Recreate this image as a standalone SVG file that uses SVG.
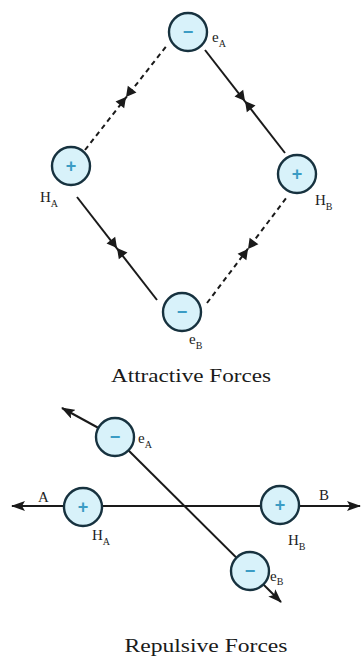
<svg xmlns="http://www.w3.org/2000/svg" xmlns:xlink="http://www.w3.org/1999/xlink" width="362" height="660" viewBox="0 0 362 660">
<style>
.ln{stroke:#1a1a1a;stroke-width:2;fill:none}
.dash{stroke-dasharray:5 4}
.pc{fill:#d8f2fa;stroke:#17323f;stroke-width:2.4}
.sg{font-family:"Liberation Sans",Arial,sans-serif;font-size:18px;font-weight:bold;fill:#3b9cc4;text-anchor:middle}
.lb{font-family:"Liberation Serif","Times New Roman",serif;font-size:15px;fill:#222}
.sb{font-size:10px}
.tt{font-family:"Liberation Serif","Times New Roman",serif;font-size:18px;fill:#1a1a1a}
</style>
<defs>
<marker id="ah" viewBox="0 0 14 10" refX="13" refY="5" markerWidth="14" markerHeight="10" markerUnits="userSpaceOnUse" orient="auto-start-reverse"><path d="M0,0 L14,5 L0,10 L3,5 z" fill="#1a1a1a"/></marker>
<path id="bt" d="M0,0 L-10,-5.5 L-10,5.5 Z M0,0 L10,-5.5 L10,5.5 Z" fill="#1a1a1a"/>
</defs>
<g id="connectors">
<line class="ln dash" x1="85" y1="150" x2="168" y2="44"/>
<line class="ln" x1="205" y1="50" x2="285" y2="153"/>
<line class="ln" x1="77" y1="197" x2="157" y2="300"/>
<line class="ln dash" x1="207" y1="303" x2="287" y2="197"/>
<use xlink:href="#bt" transform="translate(126,97) rotate(-52)"/>
<use xlink:href="#bt" transform="translate(245,101) rotate(52)"/>
<use xlink:href="#bt" transform="translate(117,248) rotate(52)"/>
<use xlink:href="#bt" transform="translate(248,249) rotate(-53)"/>
<line class="ln" x1="12" y1="506" x2="360" y2="506" marker-start="url(#ah)" marker-end="url(#ah)"/>
<line class="ln" x1="115" y1="437" x2="62" y2="408" marker-end="url(#ah)"/>
<line class="ln" x1="115" y1="437" x2="281" y2="602" marker-end="url(#ah)"/>
</g>
<g id="eA-top"><circle class="pc" cx="188" cy="32" r="19"/><text class="sg" x="188" y="38">−</text><text class="lb" x="212" y="42">e<tspan class="sb" dy="5">A</tspan></text></g>
<g id="HA-top"><circle class="pc" cx="71" cy="166" r="19"/><text class="sg" x="71" y="172">+</text><text class="lb" x="40" y="202">H<tspan class="sb" dy="5">A</tspan></text></g>
<g id="HB-top"><circle class="pc" cx="297" cy="174" r="19"/><text class="sg" x="297" y="180">+</text><text class="lb" x="315" y="205">H<tspan class="sb" dy="5">B</tspan></text></g>
<g id="eB-top"><circle class="pc" cx="182" cy="312" r="19"/><text class="sg" x="182" y="318">−</text><text class="lb" x="189" y="344">e<tspan class="sb" dy="5">B</tspan></text></g>
<text class="tt" x="191" y="382" text-anchor="middle" textLength="160" lengthAdjust="spacingAndGlyphs">Attractive Forces</text>
<g id="eA-bot"><circle class="pc" cx="115" cy="437" r="19"/><text class="sg" x="115" y="443">−</text><text class="lb" x="138" y="443">e<tspan class="sb" dy="5">A</tspan></text></g>
<g id="HA-bot"><circle class="pc" cx="83" cy="507" r="19"/><text class="sg" x="83" y="513">+</text><text class="lb" x="92" y="540">H<tspan class="sb" dy="5">A</tspan></text></g>
<g id="HB-bot"><circle class="pc" cx="280" cy="505" r="19"/><text class="sg" x="280" y="511">+</text><text class="lb" x="288" y="545">H<tspan class="sb" dy="5">B</tspan></text></g>
<g id="eB-bot"><circle class="pc" cx="250" cy="571" r="19"/><text class="sg" x="250" y="577">−</text><text class="lb" x="270" y="581">e<tspan class="sb" dy="4">B</tspan></text></g>
<text class="lb" x="38" y="502" font-size="16">A</text>
<text class="lb" x="319" y="500" font-size="16">B</text>
<text class="tt" x="206" y="652" text-anchor="middle" textLength="163" lengthAdjust="spacingAndGlyphs">Repulsive Forces</text>
</svg>
